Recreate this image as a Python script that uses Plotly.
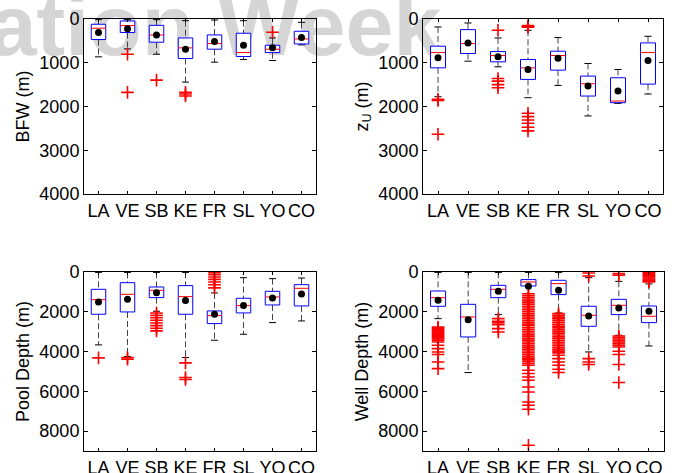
import plotly.graph_objects as go

categories = ["LA", "VE", "SB", "KE", "FR", "SL", "YO", "CO"]
positions = [1, 2, 3, 4, 5, 6, 7, 8]

# ---- BFW (m) ----
bfw_wlo = [15, 15, 15, 38, 23, 38, 433, 76]
bfw_q1 = [120, 45, 145, 433, 364, 326, 600, 281]
bfw_med = [210, 150, 365, 660, 560, 767, 690, 455]
bfw_q3 = [470, 310, 530, 903, 690, 858, 767, 570]
bfw_whi = [865, 683, 805, 1442, 987, 926, 949, 592]
bfw_mean = [310, 220, 365, 690, 516, 600, 660, 425]
bfw_out = [[], [805, 1677], [1397], [1677, 1715, 1760], [], [], [304], []]

# ---- z_U (m) ----
zu_wlo = [182, 91, 433, 258, 425, 1017, 1154, 395]
zu_q1 = [622, 243, 744, 926, 736, 1305, 1343, 546]
zu_med = [767, 562, 835, 1116, 835, 1480, 1875, 767]
zu_q3 = [1116, 789, 979, 1381, 1169, 1761, 1913, 1488]
zu_whi = [1776, 964, 1093, 1799, 1518, 2216, 1928, 1715]
zu_mean = [888, 546, 865, 1154, 896, 1533, 1647, 949]
zu_out = [[1837, 1862, 2634], [], [258, 1360, 1420, 1500, 1570],
          [150, 172, 190, 2155, 2231, 2307, 2383, 2474, 2558], [], [], [], []]

# ---- Pool Depth (m) ----
pool_wlo = [20, 20, 20, 20, 1054, 285, 335, 301]
pool_q1 = [870, 536, 753, 686, 1958, 1322, 971, 636]
pool_med = [1389, 1121, 920, 1238, 2192, 1690, 1255, 820]
pool_q3 = [2125, 2008, 1289, 2125, 2594, 2059, 1657, 1707]
pool_whi = [3665, 4251, 1975, 4301, 3431, 3130, 2544, 2460]
pool_mean = [1506, 1372, 1038, 1439, 2125, 1690, 1305, 1105]
pool_out = [[4318], [4300, 4380],
            [2059, 2176, 2293, 2427, 2561, 2695, 2828, 2962],
            [4569, 5305, 5406],
            [30, 130, 250, 370, 500, 640, 800], [], [], []]

# ---- Well Depth (m) ----
well_wlo = [20, 20, 20, 20, 20, 285, 469, 600]
well_q1 = [955, 1625, 670, 382, 417, 1724, 1373, 1708]
well_med = [1290, 2261, 870, 502, 584, 2176, 1675, 2228]
well_q3 = [1724, 3266, 1290, 703, 1137, 2730, 2143, 2546]
well_whi = [2345, 5056, 2143, 703, 2060, 4020, 3180, 3718]
well_mean = [1424, 2395, 971, 719, 920, 2211, 1808, 1975]
well_out = [
    [2770, 2825, 2890, 2945, 3010, 3075, 3130, 3185, 3250, 3310, 3372, 3430,
     3518, 3685, 3853, 4020, 4150, 4522, 4857],
    [],
    [2345, 2479, 2546, 2646, 2848, 3015],
    [1090, 1180, 1270, 1355, 1450, 1540, 1625, 1720, 1810, 1900, 1985, 2075,
     2170, 2260, 2345, 2440, 2530, 2620, 2705, 2800, 2890, 2980, 3065, 3160,
     3250, 3340, 3425, 3520, 3610, 3700, 3785, 3880, 3970, 4060, 4145, 4240,
     4330, 4420, 4505, 4600, 4690, 4940, 5106, 5276, 5440, 5779, 6030, 6533,
     6700, 6900, 8710],
    [2092, 2180, 2270, 2355, 2450, 2540, 2625, 2720, 2810, 2900, 2985, 3075,
     3170, 3260, 3345, 3440, 3530, 3620, 3705, 3800, 3890, 3980, 4065, 4187,
     4353, 4522, 4690, 4890, 5056],
    [50, 200, 4353, 4522, 4653],
    [83, 167, 3215, 3290, 3370, 3445, 3520, 3600, 3680, 3769, 3985, 4150,
     4653, 5557],
    [20, 75, 130, 185, 240, 300, 355, 410, 460, 502],
]

watermark_text = "ation Week"

FONT = "Liberation Sans, Arial, sans-serif"
FS = 18
BOX_HALF = 0.25
CAP_HALF = 0.12
W, H = 675, 473

# top-left panel frame in page pixels (used to place the watermark beneath it)
TL_L, TL_R, TL_T, TL_B = 84, 316, 19, 194
TOP_RANGE = [4000, 0]
WM_PX, WM_PY = 215, 33

fig = go.Figure()

# watermark: first trace of the top-left subplot, so every mark is drawn over it
wm_x = 0.5 + (WM_PX - TL_L) / (TL_R - TL_L) * 8
wm_y = (WM_PY - TL_T) / (TL_B - TL_T) * TOP_RANGE[0]
fig.add_trace(go.Scatter(
    x=[wm_x], y=[wm_y], mode="text", text=["<b>" + watermark_text + "</b>"],
    textposition="middle center",
    textfont=dict(family="Liberation Sans, Arial", size=86, color="#d5d5d5"),
    xaxis="x", yaxis="y", hoverinfo="skip", showlegend=False, cliponaxis=False))


def add_panel(ax, wlo, q1, med, q3, whi, mean, out):
    xa = "x" + ax
    ya = "y" + ax
    wx, wy, cx, cy, mx, my, ox, oy = [], [], [], [], [], [], [], []
    common = dict(xaxis=xa, yaxis=ya, showlegend=False, hoverinfo="skip")
    for i, p in enumerate(positions):
        wx += [p, p, None, p, p, None]
        wy += [wlo[i], q1[i], None, q3[i], whi[i], None]
        cx += [p - CAP_HALF, p + CAP_HALF, None, p - CAP_HALF, p + CAP_HALF, None]
        cy += [wlo[i], wlo[i], None, whi[i], whi[i], None]
        mx += [p - BOX_HALF, p + BOX_HALF, None]
        my += [med[i], med[i], None]
        ox += [p] * len(out[i])
        oy += out[i]
    fig.add_trace(go.Scatter(x=wx, y=wy, mode="lines",
                             line=dict(color="#444444", width=1, dash="6px,3px"), **common))
    fig.add_trace(go.Scatter(x=cx, y=cy, mode="lines",
                             line=dict(color="black", width=1), **common))
    for i, p in enumerate(positions):
        fig.add_trace(go.Scatter(
            x=[p - BOX_HALF, p + BOX_HALF, p + BOX_HALF, p - BOX_HALF, p - BOX_HALF],
            y=[q1[i], q1[i], q3[i], q3[i], q1[i]], mode="lines", fill="toself",
            fillcolor="white", line=dict(color="#0000ff", width=1), **common))
    fig.add_trace(go.Scatter(x=mx, y=my, mode="lines",
                             line=dict(color="#ff0000", width=1), **common))
    fig.add_trace(go.Scatter(x=ox, y=oy, mode="markers",
                             marker=dict(symbol="cross-thin", size=9, color="red",
                                         line=dict(color="red", width=1.6)), **common))
    fig.add_trace(go.Scatter(x=positions, y=mean, mode="markers",
                             marker=dict(symbol="circle", size=7, color="black"), **common))


add_panel("", bfw_wlo, bfw_q1, bfw_med, bfw_q3, bfw_whi, bfw_mean, bfw_out)
add_panel("2", zu_wlo, zu_q1, zu_med, zu_q3, zu_whi, zu_mean, zu_out)
add_panel("3", pool_wlo, pool_q1, pool_med, pool_q3, pool_whi, pool_mean, pool_out)
add_panel("4", well_wlo, well_q1, well_med, well_q3, well_whi, well_mean, well_out)


def xdom(l, r):
    return [l / W, r / W]


def ydom(t, b):
    return [1 - b / H, 1 - t / H]


xcommon = dict(range=[0.5, 8.5], tickmode="array", tickvals=positions, ticktext=categories,
               ticks="inside", ticklen=3, tickcolor="black", showline=True, linecolor="black",
               linewidth=1, mirror="ticks", showgrid=False, zeroline=False, tickangle=0,
               automargin=False, fixedrange=True,
               tickfont=dict(family=FONT, size=FS, color="black"))
ycommon = dict(ticks="inside", ticklen=4, tickcolor="black", showline=True, linecolor="black",
               linewidth=1, mirror="ticks", showgrid=False, zeroline=False,
               automargin=False, fixedrange=True,
               tickfont=dict(family=FONT, size=FS, color="black"))

top_ticks = [0, 1000, 2000, 3000, 4000]
bot_ticks = [0, 2000, 4000, 6000, 8000]
tfont = dict(family=FONT, size=FS, color="black")

fig.update_layout(
    width=W, height=H, autosize=False,
    margin=dict(l=0, r=0, t=0, b=0, pad=0),
    paper_bgcolor="white", plot_bgcolor="rgba(0,0,0,0)",
    xaxis=dict(domain=xdom(TL_L, TL_R), anchor="y", **xcommon),
    yaxis=dict(domain=ydom(TL_T, TL_B), anchor="x", range=TOP_RANGE, tickvals=top_ticks,
               title=dict(text="BFW (m)", font=tfont, standoff=5), **ycommon),
    xaxis2=dict(domain=xdom(423, 663), anchor="y2", **xcommon),
    yaxis2=dict(domain=ydom(19, 194), anchor="x2", range=TOP_RANGE, tickvals=top_ticks,
                title=dict(text="z<sub>U</sub> (m)", font=tfont, standoff=5), **ycommon),
    xaxis3=dict(domain=xdom(84, 316), anchor="y3", **xcommon),
    yaxis3=dict(domain=ydom(272, 451), anchor="x3", range=[9000, 0], tickvals=bot_ticks,
                title=dict(text="Pool Depth (m)", font=tfont, standoff=5), **ycommon),
    xaxis4=dict(domain=xdom(423, 664), anchor="y4", **xcommon),
    yaxis4=dict(domain=ydom(272, 451), anchor="x4", range=[9000, 0], tickvals=bot_ticks,
                title=dict(text="Well Depth (m)", font=tfont, standoff=5), **ycommon),
)

fig.write_html("out.html", config={"displayModeBar": False},
               post_script="document.body.style.margin='0';")
